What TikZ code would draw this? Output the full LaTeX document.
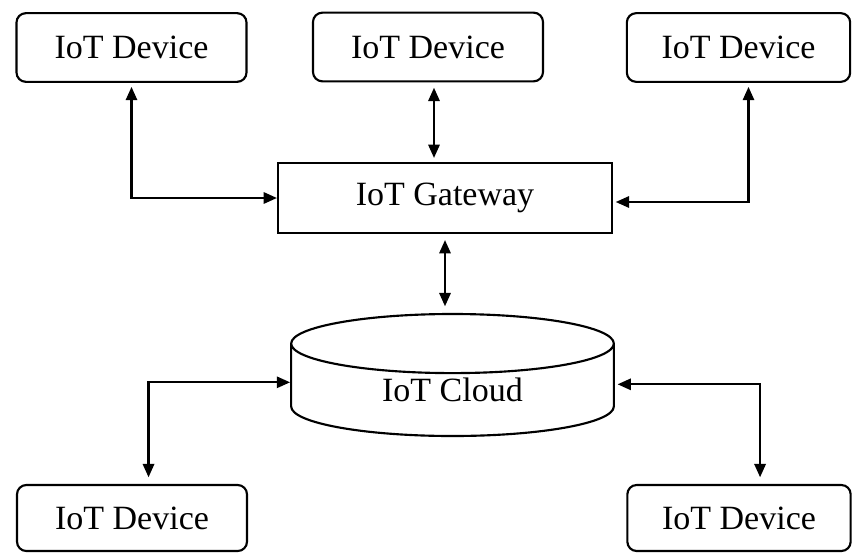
\documentclass[tikz,border=0pt]{standalone}
\usepackage{fontspec}
\setmainfont{Liberation Serif}
\usetikzlibrary{arrows.meta,shapes.geometric}

\tikzset{every picture/.style={line width=1.6pt}}
\tikzset{
	device/.style={draw, rounded corners=7pt, minimum width=172.5pt, minimum height=51.5pt, inner sep=0pt, font=\fontsize{25.5}{30}\selectfont},
	gateway/.style={draw, minimum width=250.5pt, minimum height=52.5pt, inner sep=0pt, font=\fontsize{25.5}{30}\selectfont},
	store/.style={draw, cylinder, shape border rotate=90, aspect=0.42, minimum width=242pt, minimum height=91.5pt, inner sep=0pt, font=\fontsize{25.5}{30}\selectfont},
	link/.style={{Triangle[length=10pt,width=8.5pt]}-{Triangle[length=10pt,width=8.5pt]}}}

\begin{document}
\begin{tikzpicture}[x=0.75pt,y=0.75pt,yscale=-1,xscale=1]
\useasboundingbox (0,0) rectangle (852,553);

% Devices
\node [device] (dev1) at (131.5,47.5) {IoT Device};
\node [device] (dev2) at (428,47) {IoT Device};
\node [device, minimum width=167.5pt] (dev3) at (738.5,47.5) {IoT Device};
\node [device, minimum width=172.5pt, minimum height=49.5pt] (dev4) at (132,518) {IoT Device};
\node [device, minimum width=167.5pt, minimum height=49.5pt] (dev5) at (739,518) {IoT Device};

% Gateway and cloud
\node [gateway] (gw) at (445,198) {IoT Gateway};
\node [store, anchor=shape center] (cloud) at (452.5,375) {IoT Cloud};

% Links
\draw [link, shorten <=3pt] (dev1.south) |- (gw.west);
\draw [link, shorten <=4pt, shorten >=3pt] ([xshift=4.5pt]dev2.south) -- ([xshift=4.5pt]dev2.south |- gw.north);
\draw [link, shorten <=3pt, shorten >=2pt] ([xshift=7.5pt]dev3.south) |- ([yshift=3pt]gw.east);
\draw [link, shorten <=4.5pt, shorten >=5pt] (gw.south) -- (gw.south |- cloud.north);
\draw [link, shorten <=5pt] ([xshift=12.4pt]dev4.north) |- ([yshift=-6pt]cloud.west);
\draw [link, shorten <=5pt, shorten >=2pt] ([xshift=15.8pt]dev5.north) |- ([yshift=-4.5pt]cloud.east);

\end{tikzpicture}
\end{document}
